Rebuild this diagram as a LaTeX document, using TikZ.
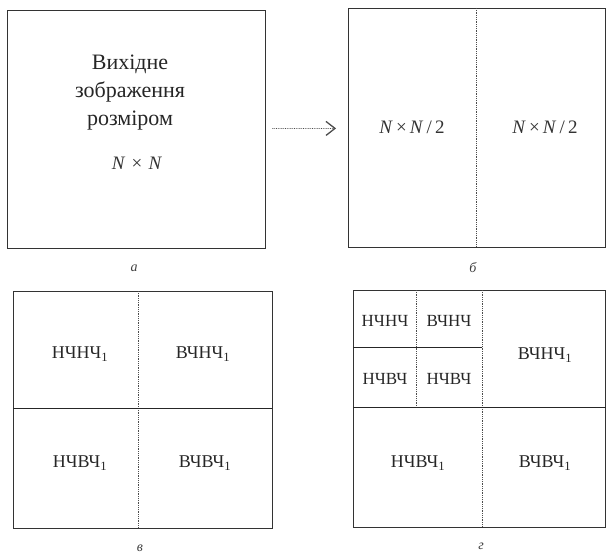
\documentclass[tikz,border=0pt]{standalone}
\usepackage{fontspec}
\setmainfont{Liberation Serif}
\usetikzlibrary{arrows.meta, positioning}

\begin{document}
\begin{tikzpicture}[
  x=1pt, y=-1pt,
  panel/.style={draw=black!80, line width=0.9pt, inner sep=0pt},
  split/.style={draw=black!70, line width=0.8pt, densely dotted},
  cut/.style={draw=black!85, line width=0.9pt},
  band/.style={font=\fontsize{18}{20}\selectfont, text=black!85},
  subband/.style={font=\fontsize{17}{19}\selectfont, text=black!85},
  size/.style={font=\fontsize{19}{21}\selectfont, text=black!80},
  caption/.style={font=\fontsize{14}{16}\selectfont\itshape, text=black!75},
  flow/.style={draw=black!70, line width=0.8pt, densely dotted, -{Straight Barb[length=9pt, width=14pt, line width=1.3pt]}}
]
  \useasboundingbox (0,0) rectangle (607,556);

  % a: input image
  \node[panel, minimum width=258pt, minimum height=238pt] (a) at (136,129) {};
  \node[align=center, font=\fontsize{22}{28}\selectfont, text=black!85] (title) at (130,93) {Вихідне\\зображення\\розміром};
  \node[size] (nn) at (137,163) {\textit{N}\,\,×\,\,\textit{N}};
  \node[caption] (capa) at (134,268) {а};

  % b: split into halves
  \node[panel, minimum width=257pt, minimum height=239pt] (b) at (477,128) {};
  \coordinate (btop) at (476,8);
  \coordinate (bbot) at (476,247);
  \draw[split] (btop) -- (bbot);
  \node[size] (bl) at (412,127) {\textit{N}\,×\,\textit{N}\,/\,2};
  \node[size] (br) at (545,127) {\textit{N}\,×\,\textit{N}\,/\,2};
  \node[caption] (capb) at (473,268) {б};

  \draw[flow, shorten <=7pt, shorten >=12pt] (a) -- (b);

  % v: first level bands
  \node[panel, minimum width=259pt, minimum height=237pt] (v) at (142.5,409.5) {};
  \coordinate (vtop) at (138,291);
  \coordinate (vbot) at (138,528);
  \coordinate (vleft) at (13,408);
  \coordinate (vright) at (272,408);
  \draw[split] (vtop) -- (vbot);
  \draw[cut] (vleft) -- (vright);
  \node[band] (v11) at (80,354) {НЧНЧ\textsubscript{1}};
  \node[band] (v12) at (203,354) {ВЧНЧ\textsubscript{1}};
  \node[band] (v21) at (80,463) {НЧВЧ\textsubscript{1}};
  \node[band] (v22) at (205,463) {ВЧВЧ\textsubscript{1}};
  \node[caption] (capv) at (140,548) {в};

  % g: second level bands
  \node[panel, minimum width=252pt, minimum height=237pt] (g) at (479.5,408.5) {};
  \coordinate (gtop) at (482,290);
  \coordinate (gbot) at (482,527);
  \coordinate (gleft) at (353,407);
  \coordinate (gright) at (606,407);
  \coordinate (stop) at (416,290);
  \coordinate (sbot) at (416,407);
  \coordinate (sleft) at (353,347);
  \coordinate (sright) at (482,347);
  \draw[split] (gtop) -- (gbot);
  \draw[cut] (gleft) -- (gright);
  \draw[split] (stop) -- (sbot);
  \draw[cut] (sleft) -- (sright);
  \node[subband] (s11) at (385,321) {НЧНЧ};
  \node[subband] (s12) at (449,321) {ВЧНЧ};
  \node[subband] (s21) at (385,379) {НЧВЧ};
  \node[subband] (s22) at (449,379) {НЧВЧ};
  \node[band] (g12) at (545,355) {ВЧНЧ\textsubscript{1}};
  \node[band] (g21) at (418,463) {НЧВЧ\textsubscript{1}};
  \node[band] (g22) at (545,463) {ВЧВЧ\textsubscript{1}};
  \node[caption] (capg) at (481,546) {г};
\end{tikzpicture}
\end{document}
